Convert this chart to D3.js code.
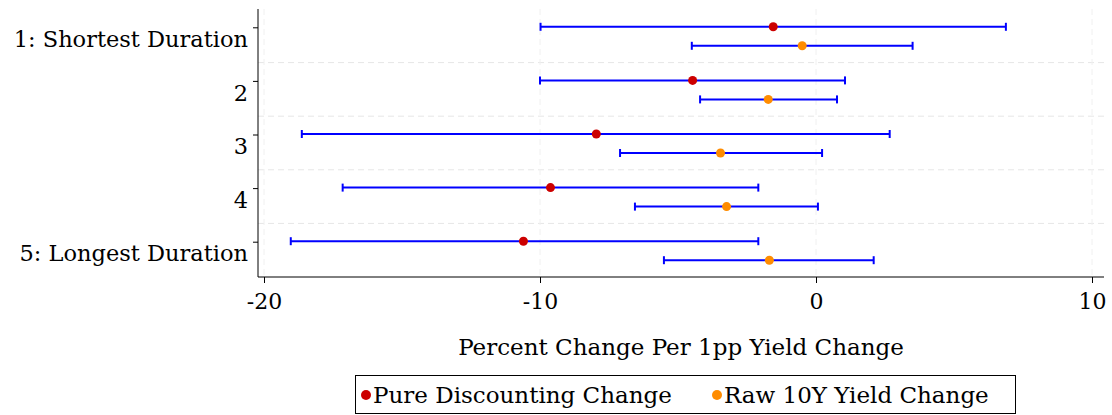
<!DOCTYPE html>
<html><head><meta charset="utf-8">
<script src="https://cdn.jsdelivr.net/npm/d3@7/dist/d3.min.js"></script>
<style>body{margin:0;background:#fff}svg text{font-family:"DejaVu Serif",serif}</style>
</head><body>
<script>
const width = 1112, height = 415;
const groups = ["1: Shortest Duration","2","3","4","5: Longest Duration"];
const pureEst = [-1.55,-4.47,-7.96,-9.62,-10.6];
const pureLo  = [-9.98,-10.0,-18.63,-17.15,-19.03];
const pureHi  = [6.88,1.05,2.67,-2.09,-2.09];
const rawEst = [-0.5,-1.73,-3.46,-3.24,-1.69];
const rawLo  = [-4.5,-4.2,-7.1,-6.56,-5.51];
const rawHi  = [3.5,0.76,0.22,0.07,2.09];
const xTicks = [-20,-10,0,10];

const svg = d3.select("body").append("svg").attr("width",width).attr("height",height);
const pLeft = 258, pRight = 1104, pTop = 9, pBottom = 277;
const x = d3.scaleLinear().domain([-20,10]).range([264,1092]);
const y = d3.scaleBand().domain(groups).range([pTop,pBottom]);

// gridlines
svg.append("g").selectAll("line").data(groups.slice(1)).join("line")
  .attr("x1",pLeft).attr("x2",pRight)
  .attr("y1",d=>y(d)).attr("y2",d=>y(d))
  .attr("stroke","#e6e6e6").attr("stroke-dasharray","6,4");
svg.append("g").selectAll("line").data(xTicks).join("line")
  .attr("x1",d=>x(d)).attr("x2",d=>x(d)).attr("y1",pTop).attr("y2",pBottom)
  .attr("stroke","#f0f0f0").attr("stroke-dasharray","6,4");

// axes
const xa = svg.append("g").attr("transform",`translate(0,${pBottom})`)
  .call(d3.axisBottom(x).tickValues(xTicks).tickFormat(d=>String(d)).tickSize(6).tickSizeOuter(0));
xa.attr("font-family",null).attr("font-size",null);
xa.select(".domain").attr("d",`M${pLeft},0H${pRight}`);
xa.selectAll("text").style("font-size","22px").attr("dy","1.05em");
const ya = svg.append("g").attr("transform",`translate(${pLeft},0)`)
  .call(d3.axisLeft(y).tickSize(5).tickSizeOuter(0).offset(0));
ya.attr("font-family",null).attr("font-size",null);
ya.select(".domain").attr("d",`M0,${pTop}V${pBottom}`);
ya.selectAll(".tick line").attr("transform","translate(0,-8)");
ya.selectAll("text").style("font-size","22.5px").attr("fill","#000").attr("dy","0.5em").attr("x",-10);

svg.append("text").attr("x",681).attr("y",355).attr("text-anchor","middle")
  .style("font-size","23px").text("Percent Change Per 1pp Yield Change");

function series(est, lo, hi, off, color){
  const g = svg.append("g");
  const yy = i => y(groups[i]) + y.bandwidth()/2 + off;
  groups.forEach((d,i)=>{
    g.append("line").attr("x1",x(lo[i])).attr("x2",x(hi[i])).attr("y1",yy(i)).attr("y2",yy(i))
      .attr("stroke","#0000ff").attr("stroke-width",2);
    [lo[i],hi[i]].forEach(v=>g.append("line").attr("x1",x(v)).attr("x2",x(v))
      .attr("y1",yy(i)-4).attr("y2",yy(i)+4).attr("stroke","#0000ff").attr("stroke-width",2));
    g.append("circle").attr("cx",x(est[i])).attr("cy",yy(i)).attr("r",4.5).attr("fill",color);
  });
}
series(pureEst,pureLo,pureHi,-9,"#cc0000");
series(rawEst,rawLo,rawHi,10,"#ff8c00");

// legend
svg.append("rect").attr("x",355.5).attr("y",375.5).attr("width",660).attr("height",38)
  .attr("fill","none").attr("stroke","#000");
[["Pure Discounting Change","#cc0000",366],["Raw 10Y Yield Change","#ff8c00",717]].forEach(([t,c,lx])=>{
  svg.append("circle").attr("cx",lx).attr("cy",395).attr("r",5).attr("fill",c);
  svg.append("text").attr("x",lx+7).attr("y",403).style("font-size","23px").text(t);
});
</script>
</body></html>
